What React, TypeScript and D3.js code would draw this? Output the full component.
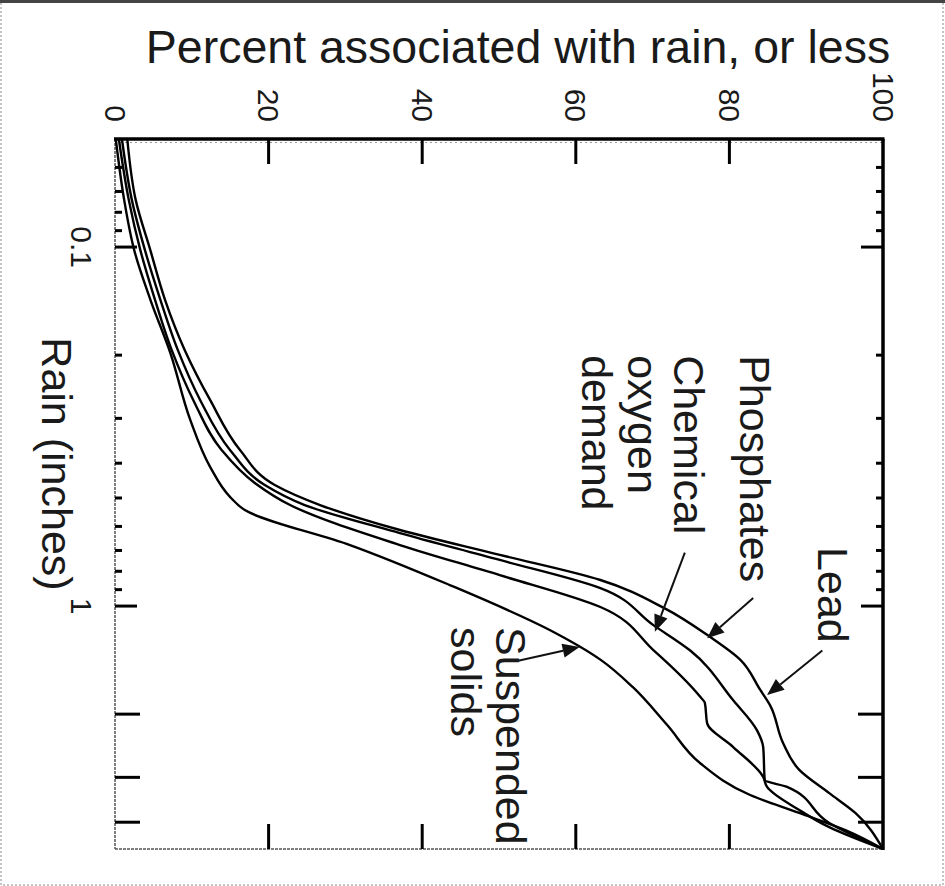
import React, { useEffect, useRef } from 'react';
import * as d3 from 'd3';

const W = 945;
const H = 886;

// readings: rain (inches) along the curve, and percent at that rain
const leadRain = [0.05, 0.074, 0.102, 0.14, 0.194, 0.267, 0.368, 0.46, 0.523, 0.614, 0.72, 0.846, 1.01, 1.22, 1.41, 1.71, 1.89, 2.41, 2.86, 3.32, 3.77, 4.75];
const leadPct = [1.6, 2.7, 4.6, 6.5, 9.1, 12.4, 16.3, 20.8, 26.7, 37.1, 50.1, 63.2, 71.4, 77.5, 81.4, 84.0, 85.3, 87.0, 89.1, 93.0, 96.4, 100];

const phosRain = [0.05, 0.074, 0.102, 0.14, 0.194, 0.267, 0.368, 0.46, 0.523, 0.626, 0.744, 0.891, 1.13, 1.33, 1.83, 2.22, 2.47, 3.05, 3.19, 4.02, 4.75];
const phosPct = [0.9, 2.2, 3.9, 5.9, 8.2, 11.1, 15.0, 19.5, 24.7, 37.1, 50.1, 63.2, 70.1, 74.9, 80.5, 83.6, 84.4, 84.6, 87.5, 93.0, 100];

const codRain = [0.05, 0.074, 0.102, 0.14, 0.194, 0.267, 0.368, 0.454, 0.523, 0.676, 0.82, 1.006, 1.326, 1.79, 1.86, 2.12, 2.47, 2.99, 3.19, 3.7, 4.13, 4.75];
const codPct = [0.5, 1.8, 3.3, 5.2, 7.4, 10.2, 13.9, 18.2, 22.8, 37.1, 50.1, 63.2, 70.1, 76.2, 76.8, 77.1, 80.5, 84.4, 84.9, 89.1, 93.0, 100];

const ssRain = [0.05, 0.074, 0.102, 0.14, 0.197, 0.303, 0.41, 0.497, 0.54, 0.676, 0.874, 1.166, 1.41, 1.68, 2.145, 2.74, 3.36, 3.77, 4.21, 4.75];
const ssPct = [0.1, 1.2, 2.5, 4.6, 7.2, 9.8, 12.4, 15.0, 16.9, 30.6, 43.6, 56.6, 63.2, 67.4, 71.9, 76.2, 82.7, 89.1, 95.1, 100];

const pctTicks = [0, 20, 40, 60, 80, 100];
const rainMajor = [0.1, 1];
const rainLong = [2, 3, 4];
const rainMinor = [0.06, 0.07, 0.08, 0.09, 0.2, 0.3, 0.4, 0.5, 0.6, 0.7, 0.8, 0.9];

const labelText = ['Lead', 'Phosphates', 'Chemical', 'oxygen', 'demand', 'Suspended', 'solids'];
const labelRain = [0.685, 0.2, 0.2, 0.2, 0.2, 1.144, 1.144];
const labelPct = [91.5, 81.4, 72.8, 66.8, 60.8, 49.6, 43.75];

const arrowTipRain = [1.77, 1.23, 1.18, 1.3];
const arrowTipPct = [84.9, 77.1, 70.3, 60.5];
const arrowTailRain = [1.33, 0.95, 0.71, 1.42];
const arrowTailPct = [92.1, 83.1, 74.2, 52.5];

const FONT = '"Liberation Sans", Arial, sans-serif';
const INK = '#1a1a1a';

export default function App() {
  const ref = useRef<SVGSVGElement | null>(null);

  useEffect(() => {
    const svg = d3.select(ref.current);
    svg.selectAll('*').remove();

    const x = d3.scaleLinear().domain([0, 100]).range([115, 883]);
    const y = d3.scaleLog().domain([0.05, 4.75]).range([139, 849]);
    const [x0, x1] = x.range();
    const [y0, y1] = y.range();

    svg.append('rect').attr('width', W).attr('height', H).attr('fill', '#fff');
    // scan border
    svg.append('rect').attr('x', 1).attr('y', 1).attr('width', W - 3).attr('height', H - 2)
      .attr('fill', 'none').attr('stroke', '#888').attr('stroke-dasharray', '2,2');
    svg.append('line').attr('x1', 0).attr('x2', W).attr('y1', 1.5).attr('y2', 1.5)
      .attr('stroke', '#444').attr('stroke-width', 3);

    // title (the original y axis label)
    svg.append('text').attr('x', 518).attr('y', 63).attr('text-anchor', 'middle')
      .attr('font-family', FONT).attr('font-size', 46.5).attr('fill', INK)
      .text('Percent associated with rain, or less');

    // frame
    const g = svg.append('g');
    g.append('line').attr('x1', x0).attr('x2', x1).attr('y1', y1).attr('y2', y1)
      .attr('stroke', '#555').attr('stroke-width', 1.5).attr('stroke-dasharray', '3,1');
    g.append('line').attr('x1', x0).attr('x2', x0).attr('y1', y0).attr('y2', y1)
      .attr('stroke', '#555').attr('stroke-width', 1.5).attr('stroke-dasharray', '3,1');
    g.append('line').attr('x1', x0).attr('x2', x1).attr('y1', y0 + 3.5).attr('y2', y0 + 3.5)
      .attr('stroke', '#999').attr('stroke-width', 1).attr('stroke-dasharray', '2,3');
    g.append('line').attr('x1', x0 - 1).attr('x2', x1 + 1.5).attr('y1', y0).attr('y2', y0)
      .attr('stroke', '#000').attr('stroke-width', 3.5);
    g.append('line').attr('x1', x1).attr('x2', x1).attr('y1', y0).attr('y2', y1 + 1)
      .attr('stroke', '#000').attr('stroke-width', 3.5);

    // percent ticks, top and bottom
    pctTicks.filter(p => p > 0 && p < 100).forEach(p => {
      g.append('line').attr('x1', x(p)).attr('x2', x(p)).attr('y1', y0).attr('y2', y0 + 25)
        .attr('stroke', '#000').attr('stroke-width', 3);
      g.append('line').attr('x1', x(p)).attr('x2', x(p)).attr('y1', y1).attr('y2', y1 - 25)
        .attr('stroke', '#000').attr('stroke-width', 3);
    });
    pctTicks.forEach(p => {
      svg.append('text')
        .attr('transform', `translate(${x(p)},122) rotate(90)`)
        .attr('text-anchor', 'end').attr('dy', '0.35em')
        .attr('font-family', FONT).attr('font-size', 30).attr('fill', INK)
        .text(String(p));
    });

    // rain ticks, left and right
    const rainTick = (v: number, len: number) => {
      g.append('line').attr('x1', x0).attr('x2', x0 + len).attr('y1', y(v)).attr('y2', y(v))
        .attr('stroke', '#000').attr('stroke-width', 3);
      g.append('line').attr('x1', x1).attr('x2', x1 - len).attr('y1', y(v)).attr('y2', y(v))
        .attr('stroke', '#000').attr('stroke-width', 3);
    };
    rainMinor.forEach(v => rainTick(v, 7));
    rainMajor.forEach(v => rainTick(v, 22));
    rainLong.forEach(v => rainTick(v, 25));
    rainMajor.forEach(v => {
      svg.append('text')
        .attr('transform', `translate(81,${y(v)}) rotate(90)`)
        .attr('text-anchor', 'middle').attr('dy', '0.35em')
        .attr('font-family', FONT).attr('font-size', 30).attr('fill', INK)
        .text(String(v));
    });
    svg.append('text')
      .attr('transform', 'translate(42,464) rotate(90)')
      .attr('text-anchor', 'middle')
      .attr('font-family', FONT).attr('font-size', 43).attr('fill', INK)
      .text('Rain (inches)');

    // curves
    const line = d3.line<[number, number]>()
      .x(d => x(d[1]))
      .y(d => y(d[0]))
      .curve(d3.curveMonotoneY);
    const series: [number[], number[]][] = [
      [leadRain, leadPct],
      [phosRain, phosPct],
      [codRain, codPct],
      [ssRain, ssPct],
    ];
    series.forEach(([r, p]) => {
      const pts = r.map((v, i) => [v, p[i]] as [number, number]);
      g.append('path').attr('d', line(pts))
        .attr('fill', 'none').attr('stroke', '#000').attr('stroke-width', 2.4);
    });

    // annotations
    labelText.forEach((t, i) => {
      svg.append('text')
        .attr('transform', `translate(${x(labelPct[i])},${y(labelRain[i])}) rotate(90)`)
        .attr('font-family', FONT).attr('font-size', 43).attr('fill', INK)
        .text(t);
    });
    arrowTipRain.forEach((_, i) => {
      const tx = x(arrowTipPct[i]);
      const ty = y(arrowTipRain[i]);
      const sx = x(arrowTailPct[i]);
      const sy = y(arrowTailRain[i]);
      const a = Math.atan2(ty - sy, tx - sx);
      const L = 17;
      const hw = 7;
      const bx = tx - L * Math.cos(a);
      const by = ty - L * Math.sin(a);
      g.append('line').attr('x1', sx).attr('y1', sy).attr('x2', bx).attr('y2', by)
        .attr('stroke', '#111').attr('stroke-width', 2);
      g.append('path')
        .attr('d', `M${tx},${ty}L${bx + hw * Math.sin(a)},${by - hw * Math.cos(a)}L${bx - hw * Math.sin(a)},${by + hw * Math.cos(a)}Z`)
        .attr('fill', '#111');
    });
  }, []);

  return (
    <svg
      ref={ref}
      width={W}
      height={H}
      style={{ position: 'absolute', left: 0, top: 0, display: 'block' }}
    />
  );
}
